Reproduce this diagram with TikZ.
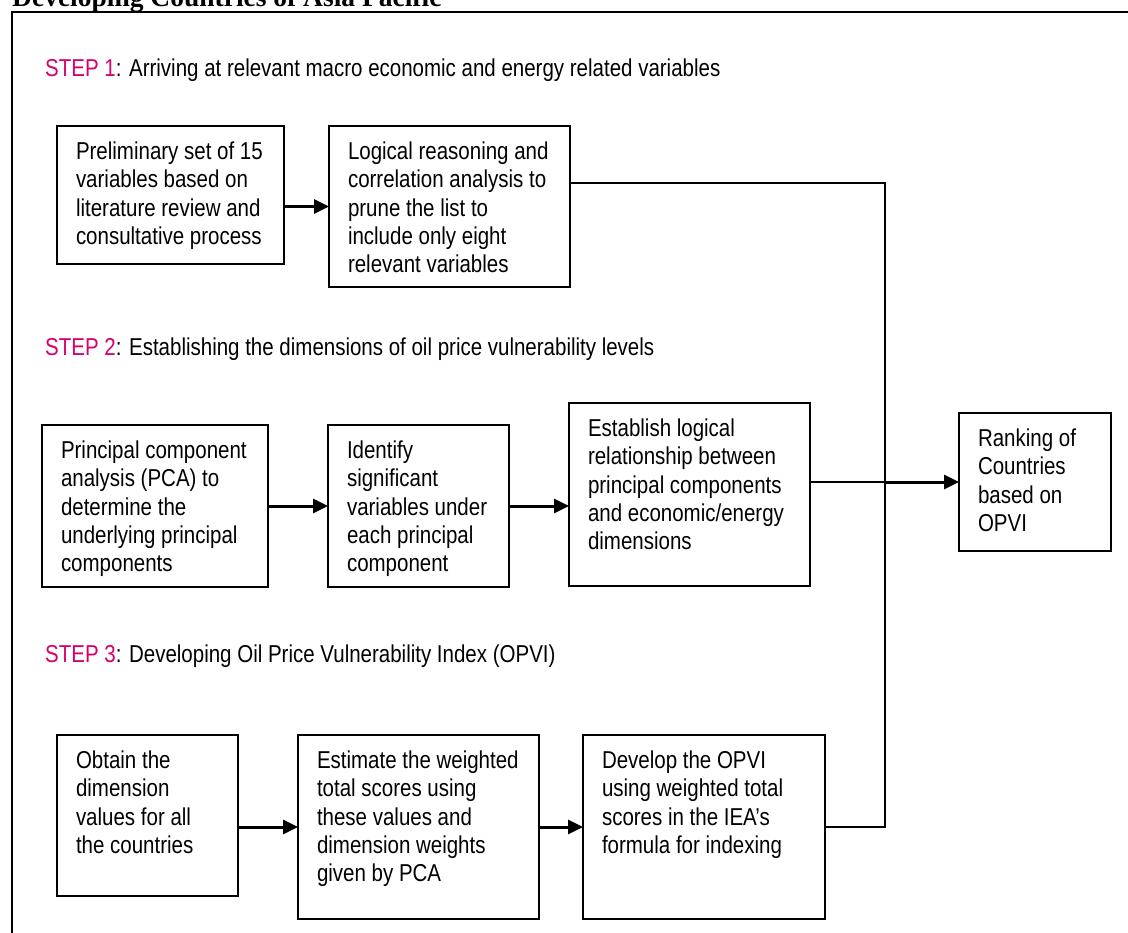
\documentclass[tikz,border=0pt]{standalone}
\usepackage{fontspec}
\setmainfont[FakeStretch=0.84]{Liberation Sans}
\newfontfamily\titlefont{Liberation Serif}
\usepackage{tikz}
\usetikzlibrary{arrows.meta,positioning}
\definecolor{steppink}{RGB}{214,0,108}
\newcommand{\boxfont}{\fontsize{24.4pt}{28.3pt}\selectfont}
\newcommand{\boxtext}[3]{\parbox[c][#2][t]{#1}{\raggedright\leftskip=19pt\vspace*{16pt}#3}}
\tikzstyle{arrow} = [line width=3pt,-{Triangle[length=15pt,width=14pt]}]
\tikzstyle{link} = [line width=2pt]
\tikzstyle{stepbox} = [rectangle, draw, line width=2pt, inner sep=0pt, outer sep=0pt, anchor=north west, font=\boxfont]
\tikzstyle{steplabel} = [anchor=base west, inner sep=0pt, font=\boxfont]

\begin{document}
\begin{tikzpicture}[x=1pt, y=-1pt]
\useasboundingbox (0,0) rectangle (1128,933);
% title and frame
\node (title) [anchor=base west, inner sep=0pt, font=\titlefont\bfseries\fontsize{27.5pt}{30pt}\selectfont] at (12,7) {Developing Countries of Asia Pacific};
\draw[link] (1140,12) -- (12,12) -- (12,945);

% step 1
\node (lab1) [steplabel] at (45,77) {\textcolor{steppink}{STEP 1}: Arriving at relevant macro economic and energy related variables};
\node (b11) [stepbox] at (57,126) {\boxtext{227pt}{138pt}{Preliminary set of 15\\variables based on\\literature review and\\consultative process}};
\node (b12) [stepbox] at (329,126) {\boxtext{241pt}{161pt}{Logical reasoning and\\correlation analysis to\\prune the list to\\include only eight\\relevant variables}};

% step 2
\node (lab2) [steplabel] at (45,356) {\textcolor{steppink}{STEP 2}: Establishing the dimensions of oil price vulnerability levels};
\node (b21) [stepbox] at (42,425) {\boxtext{226pt}{162pt}{Principal component\\analysis (PCA) to\\determine the\\underlying principal\\components}};
\node (b22) [stepbox] at (328,425) {\boxtext{181pt}{162pt}{Identify\\significant\\variables under\\each principal\\component}};
\node (b23) [stepbox] at (569,403) {\boxtext{241pt}{183pt}{Establish logical\\relationship between\\principal components\\and economic/energy\\dimensions}};
\node (rank) [stepbox] at (959,413) {\boxtext{152pt}{138pt}{Ranking of\\Countries\\based on\\OPVI}};

% step 3
\node (lab3) [steplabel] at (45,662) {\textcolor{steppink}{STEP 3}: Developing Oil Price Vulnerability Index (OPVI)};
\node (b31) [stepbox] at (57,735) {\boxtext{181pt}{161pt}{Obtain the\\dimension\\values for all\\the countries}};
\node (b32) [stepbox] at (298,735) {\boxtext{241pt}{184pt}{Estimate the weighted\\total scores using\\these values and\\dimension weights\\given by PCA}};
\node (b33) [stepbox] at (583,735) {\boxtext{242pt}{184pt}{Develop the OPVI\\using weighted total\\scores in the IEA's\\formula for indexing}};

% connectors
\coordinate (bustop) at (885,183);
\coordinate (hub) at (885,482);
\coordinate (busbot) at (b33.east -| bustop);
\draw[arrow] (b11.east |- b12) -- (b12);
\draw[arrow] (b21) -- (b22);
\draw[arrow] (b22.east) -- (b22.east -| b23.west);
\draw[arrow] (b31.east |- b32) -- (b32);
\draw[arrow] (b32) -- (b33);
\draw[link] (b12.east |- bustop) -- (bustop) -- (busbot) -- (b33.east);
\draw[link] (b23.east |- hub) -- (hub);
\draw[arrow] (hub) -- (hub -| rank.west);
\end{tikzpicture}
\end{document}
